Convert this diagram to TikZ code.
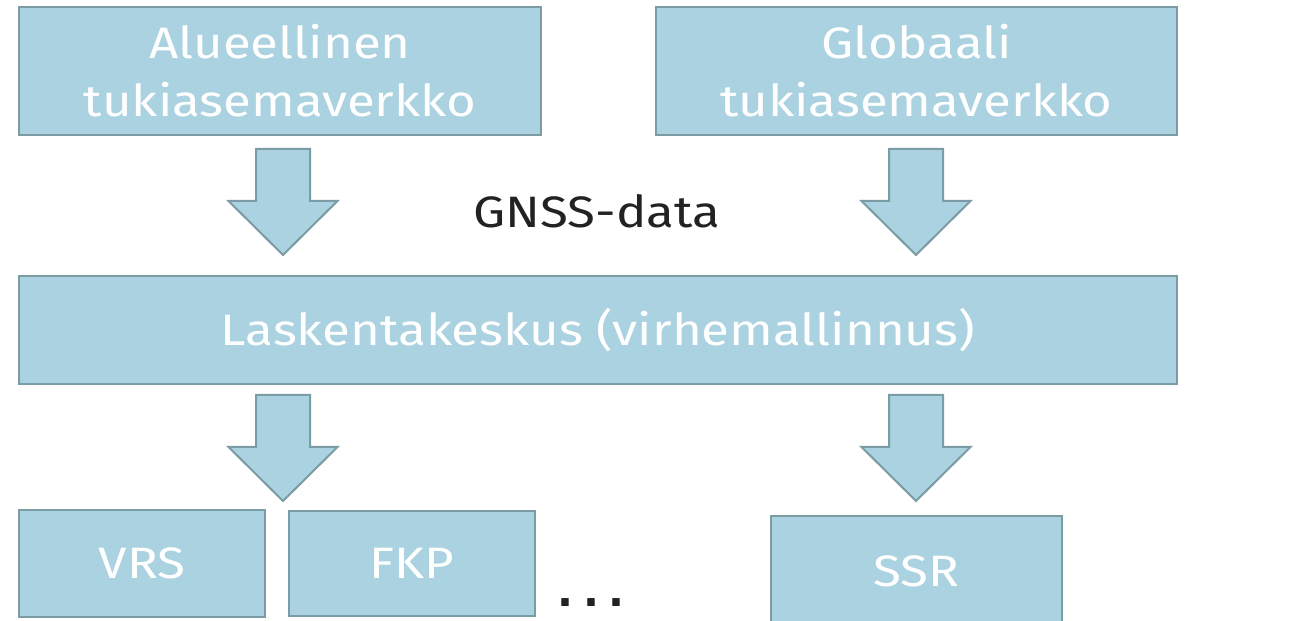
\documentclass[tikz,border=0pt]{standalone}
\usepackage{fontspec}
\setmainfont[FakeStretch=1.16]{Fira Sans}
\newfontfamily\dotfont{DejaVu Sans}
\definecolor{boxfill}{HTML}{ABD2E0}
\definecolor{boxline}{HTML}{7B9BA5}
\definecolor{darktext}{HTML}{222222}
\begin{document}
\begin{tikzpicture}[x=1pt,y=1pt,
  box/.style={draw=boxline, fill=boxfill, line width=2pt, text=white, inner sep=0pt, align=center, font=\fontsize{44}{58}\selectfont},
  blockarrow/.style={draw=boxline, fill=boxfill, line width=2pt, line join=miter},
  downarr/.pic={\draw[blockarrow] (-27,0) -- (27,0) -- (27,-52) -- (54.5,-52) -- (0,-106) -- (-54.5,-52) -- (-27,-52) -- cycle;}
]
\useasboundingbox (0,0) rectangle (1299,621);
\clip (0,0) rectangle (1299,621);
\node[box, minimum width=522pt, minimum height=128pt] (A) at (280,550) {Alueellinen\\tukiasemaverkko};
\node[box, minimum width=521pt, minimum height=128pt] (B) at (916.5,550) {Globaali\\tukiasemaverkko};
\node[box, minimum width=1158pt, minimum height=108pt] (L) at (598,291) {Laskentakeskus (virhemallinnus)};
\node[box, minimum width=246pt, minimum height=107pt] (VRS) at (142,57.5) {VRS};
\node[box, minimum width=246pt, minimum height=105pt] (FKP) at (412,57.5) {FKP};
\node[box, minimum width=291pt, minimum height=110pt] (SSR) at (916.5,50) {SSR};
\node[text=darktext, font=\fontsize{44}{52}\selectfont] (gnss) at (597,410) {GNSS-data};
\node[text=darktext, font=\dotfont\bfseries\fontsize{42}{46}\selectfont, inner sep=0pt] (dots) at (591,18) {.\hspace{10pt}.\hspace{10pt}.};
\pic at (283,472) {downarr};
\pic at (916,472) {downarr};
\pic at (283,226) {downarr};
\pic at (916,226) {downarr};
\end{tikzpicture}
\end{document}
